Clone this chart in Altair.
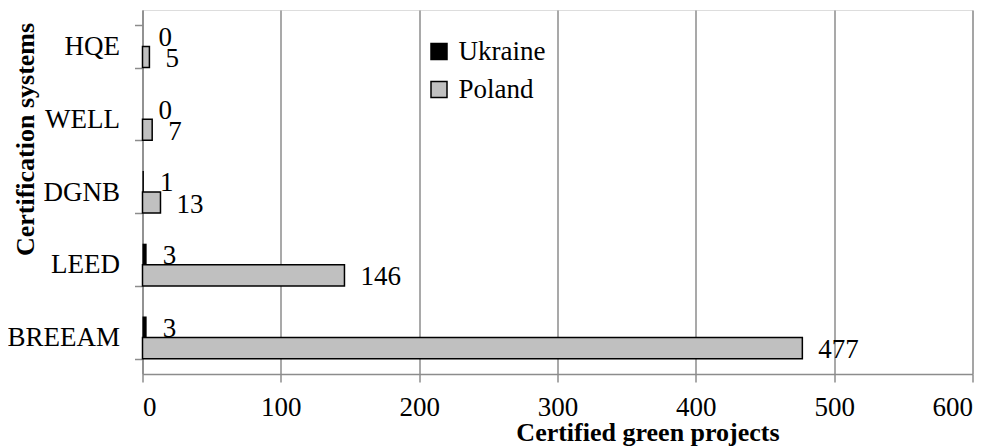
import altair as alt
import pandas as pd

systems = ["HQE", "WELL", "DGNB", "LEED", "BREEAM"]
ukraine = [0, 0, 1, 3, 3]
poland = [5, 7, 13, 146, 477]
series = ["Ukraine", "Poland"]
x_ticks = [0, 100, 200, 300, 400, 500, 600]

rows = []
for s, u, p in zip(systems, ukraine, poland):
    rows.append({"system": s, "country": "Ukraine", "value": u})
    rows.append({"system": s, "country": "Poland", "value": p})
df = pd.DataFrame(rows)

FONT = "Liberation Serif"
GRID = "#8c8c8c"
FS = 27

y_enc = alt.Y(
    "system:N",
    sort=systems,
    scale=alt.Scale(paddingInner=0.42, paddingOuter=0.21),
    axis=alt.Axis(
        title="Certification systems",
        titleFont=FONT, titleFontSize=26, titleFontWeight="bold", titleColor="black",
        titleAngle=270, titleX=-109, titleY=129, titleAlign="center", titleBaseline="alphabetic",
        labelFont=FONT, labelFontSize=FS, labelColor="black", labelPadding=15,
        tickBand="extent", tickSize=8, tickColor=GRID, tickWidth=1.5,
        domainColor=GRID, domainWidth=1.5, grid=False,
    ),
)
x_enc = alt.X(
    "value:Q",
    scale=alt.Scale(domain=[0, 600], nice=False),
    axis=alt.Axis(
        values=x_ticks,
        title="Certified green projects",
        titleFont=FONT, titleFontSize=26, titleFontWeight="bold", titleColor="black",
        titleX=505, titleY=66, titleAlign="center", titleBaseline="alphabetic",
        labelFont=FONT, labelFontSize=FS, labelColor="black", labelPadding=12,
        tickSize=8, tickColor=GRID, tickWidth=1.5,
        domainColor=GRID, domainWidth=1.5,
        grid=True, gridColor=GRID, gridWidth=1.5,
    ),
)
yoff = alt.YOffset("country:N", sort=series, scale=alt.Scale(paddingInner=0, paddingOuter=0))

bars = alt.Chart(df).mark_bar().encode(
    x=x_enc,
    y=y_enc,
    yOffset=yoff,
    color=alt.Color(
        "country:N",
        sort=series,
        scale=alt.Scale(domain=series, range=["black", "#c0c0c0"]),
        legend=alt.Legend(
            title=None, orient="none", legendX=283, legendY=28,
            labelFont=FONT, labelFontSize=FS, labelColor="black",
            symbolType="square", symbolSize=256, symbolStrokeColor="black",
            symbolStrokeWidth=1.5, labelOffset=6, rowPadding=10,
        ),
    ),
    stroke=alt.condition("datum.country == 'Poland'", alt.value("black"), alt.value(None)),
    strokeWidth=alt.condition("datum.country == 'Poland'", alt.value(1.5), alt.value(0)),
)

labels = alt.Chart(df).mark_text(
    align="left", baseline="middle", dx=16, dy=2, font=FONT, fontSize=FS, color="black"
).encode(
    x=alt.X("value:Q"),
    y=alt.Y("system:N", sort=systems),
    yOffset=yoff,
    text=alt.Text("value:Q"),
)

chart = alt.layer(bars, labels).properties(
    width=830, height=364,
    autosize=alt.AutoSizeParams(type="none"),
    padding={"left": 134.5, "top": 2, "right": 20, "bottom": 76},
).configure_view(stroke=None).configure(background="white")

chart.save("out.html", embed_options={"renderer": "svg", "actions": False})
